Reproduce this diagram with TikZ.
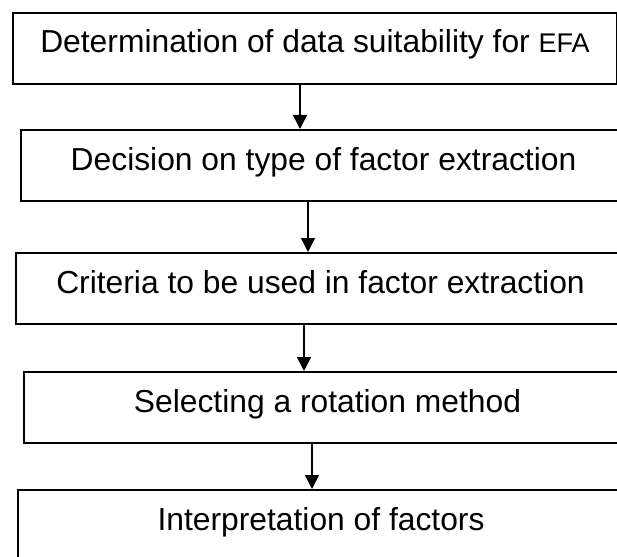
\documentclass[tikz,border=0pt]{standalone}
\usepackage{fontspec}
\setmainfont{Liberation Sans}
\usetikzlibrary{arrows.meta}
\begin{document}
\begin{tikzpicture}[x=1pt,y=-1pt,
  box/.style={draw, line width=2pt, anchor=north west, inner sep=0pt,
    text height=40pt, text depth=31pt, font=\fontsize{31.8}{36}\selectfont},
  arr/.style={line width=1.5pt, -{Triangle[length=14pt,width=14pt]}}]
\useasboundingbox (0,0) rectangle (617,556);
\clip (0,0) rectangle (617,556);
\node[box, minimum width=604pt] (b1) at (12,12) {Determination of data suitability for {\fontsize{27}{30}\selectfont EFA}};
\node[box, minimum width=605pt] (b2) at (20,129) {Decision on type of factor extraction};
\node[box, minimum width=609pt] (b3) at (15,252) {Criteria to be used in factor extraction};
\node[box, minimum width=607pt] (b4) at (23,371) {Selecting a rotation method};
\node[box, minimum width=606pt] (b5) at (17,489) {Interpretation of factors};
\coordinate (a1) at (300,0);
\coordinate (a2) at (308,0);
\coordinate (a3) at (304,0);
\coordinate (a4) at (312,0);
\draw[arr] (b1.south -| a1) -- (b2.north -| a1);
\draw[arr] (b2.south -| a2) -- (b3.north -| a2);
\draw[arr] (b3.south -| a3) -- (b4.north -| a3);
\draw[arr] (b4.south -| a4) -- (b5.north -| a4);
\end{tikzpicture}
\end{document}
